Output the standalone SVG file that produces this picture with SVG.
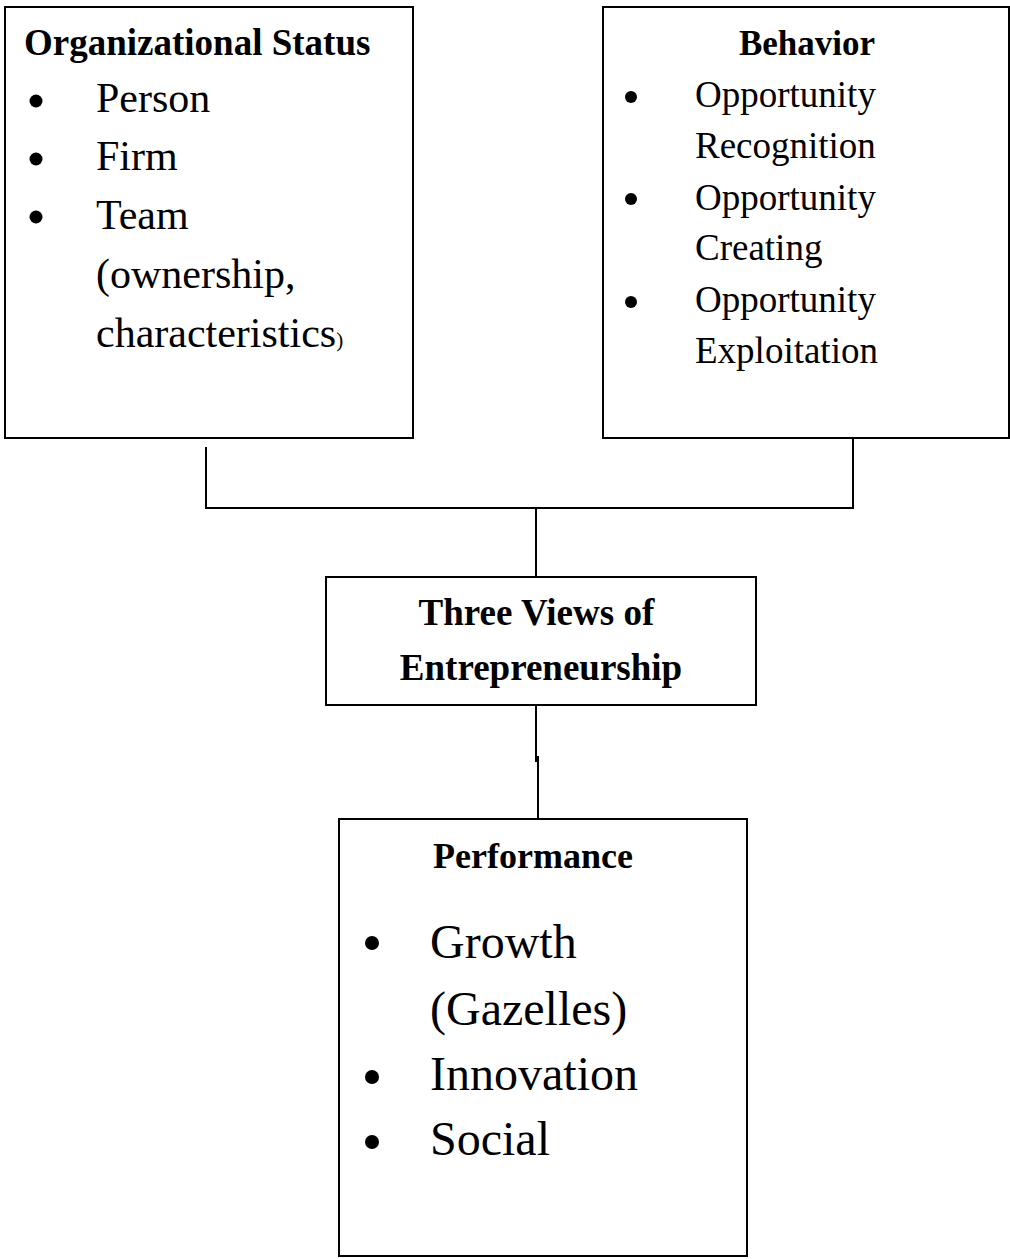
<svg xmlns="http://www.w3.org/2000/svg" width="1010" height="1259" viewBox="0 0 1010 1259">
  <style>
    .box { fill: #ffffff; stroke: #000000; stroke-width: 2; }
    .link { fill: none; stroke: #000000; stroke-width: 2; }
    .head { font-family: "Liberation Serif", "Times New Roman", serif; font-weight: bold; fill: #000000; }
    .body { font-family: "Liberation Serif", "Times New Roman", serif; fill: #000000; }
    .dot { fill: #000000; }
  </style>
  <rect x="0" y="0" width="1010" height="1259" fill="#ffffff"/>

  <!-- connectors -->
  <g id="connectors">
    <polyline class="link" points="206,447 206,508 853,508 853,438"/>
    <line class="link" x1="536" y1="508" x2="536" y2="577"/>
    <line class="link" x1="536" y1="705" x2="536" y2="762"/>
    <line class="link" x1="538" y1="756" x2="538" y2="819"/>
  </g>

  <!-- organizational status -->
  <g id="node-org-status">
    <rect class="box" x="5" y="7" width="408" height="431"/>
    <text class="head" x="24" y="55" font-size="37">Organizational Status</text>
    <circle class="dot" cx="36" cy="101" r="6.5"/>
    <circle class="dot" cx="36" cy="159" r="6.5"/>
    <circle class="dot" cx="36" cy="217" r="6.5"/>
    <text class="body" font-size="42">
      <tspan x="96" y="112">Person</tspan>
      <tspan x="96" y="170">Firm</tspan>
      <tspan x="96" y="229">Team</tspan>
      <tspan x="96" y="288">(ownership,</tspan>
      <tspan x="96" y="347">characteristics<tspan font-size="21">)</tspan></tspan>
    </text>
  </g>

  <!-- behavior -->
  <g id="node-behavior">
    <rect class="box" x="603" y="7" width="406" height="431"/>
    <text class="head" x="807" y="55" font-size="35" text-anchor="middle">Behavior</text>
    <circle class="dot" cx="631" cy="97" r="6"/>
    <circle class="dot" cx="631" cy="199" r="6"/>
    <circle class="dot" cx="631" cy="302" r="6"/>
    <text class="body" font-size="37">
      <tspan x="695" y="107">Opportunity</tspan>
      <tspan x="695" y="158">Recognition</tspan>
      <tspan x="695" y="210">Opportunity</tspan>
      <tspan x="695" y="260">Creating</tspan>
      <tspan x="695" y="312">Opportunity</tspan>
      <tspan x="695" y="363">Exploitation</tspan>
    </text>
  </g>

  <!-- central node -->
  <g id="node-three-views">
    <rect class="box" x="326" y="577" width="430" height="128"/>
    <text class="head" font-size="37" text-anchor="middle">
      <tspan x="541" y="625">Three Views of</tspan>
      <tspan x="541" y="680">Entrepreneurship</tspan>
    </text>
  </g>

  <!-- performance -->
  <g id="node-performance">
    <rect class="box" x="339" y="819" width="408" height="437"/>
    <text class="head" x="533" y="868" font-size="36" text-anchor="middle">Performance</text>
    <circle class="dot" cx="372" cy="943" r="7"/>
    <circle class="dot" cx="372" cy="1077" r="7"/>
    <circle class="dot" cx="372" cy="1142" r="7"/>
    <text class="body" font-size="48">
      <tspan x="430" y="958">Growth</tspan>
      <tspan x="430" y="1025">(Gazelles)</tspan>
      <tspan x="430" y="1090">Innovation</tspan>
      <tspan x="430" y="1155">Social</tspan>
    </text>
  </g>
</svg>
